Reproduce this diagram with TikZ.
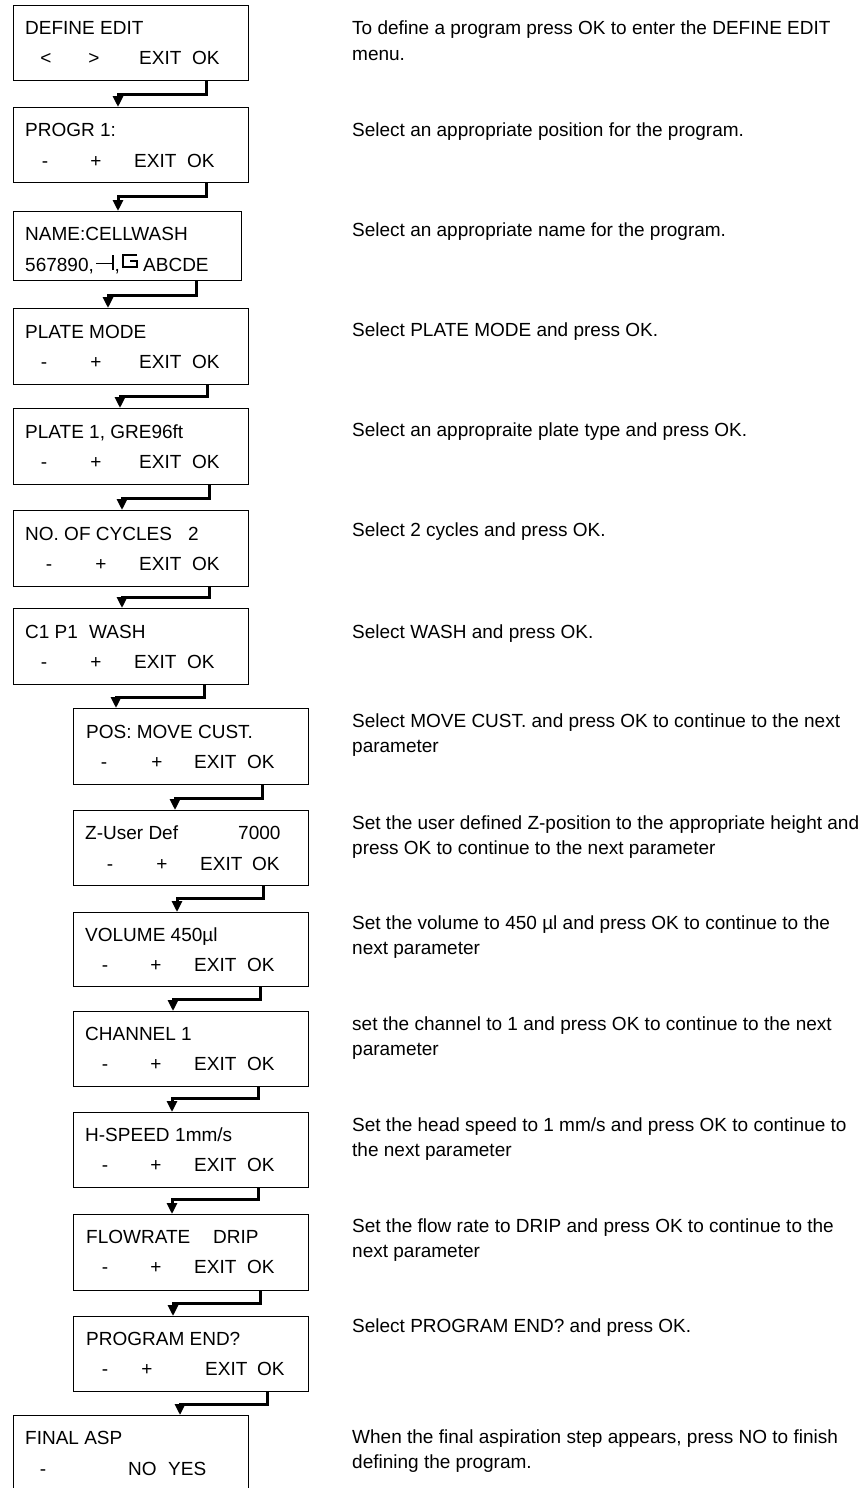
\documentclass[tikz,border=0pt]{standalone}
\usepackage{fontspec}
\setmainfont{Liberation Sans}
\usetikzlibrary{calc,arrows.meta}
\begin{document}
\begin{tikzpicture}[x=1pt,y=-1pt,
  box/.style={draw,line width=1.2pt,inner sep=0pt,anchor=north west},
  lbl/.style={inner sep=0pt,anchor=base west,font=\fontsize{19}{23}\selectfont},
  keyc/.style={inner sep=0pt,anchor=base,font=\fontsize{19}{23}\selectfont},
  desc/.style={inner sep=0pt,anchor=base west,font=\fontsize{19}{23}\selectfont},
  glyph/.style={line width=1.2pt},
  arr/.style={line width=3pt,line join=miter,-{Triangle[length=11pt,width=10pt]}}]
\useasboundingbox (0,0) rectangle (867,1488);
\clip (0,0) rectangle (867,1488);

% ---------- boxes ----------
\node[box,minimum width=235pt,minimum height=75pt] (b1) at (13,5) {};
\node[box,minimum width=235pt,minimum height=75pt] (b2) at (13,107) {};
\node[box,minimum width=228pt,minimum height=69pt] (b3) at (13,211) {};
\node[box,minimum width=235pt,minimum height=76pt] (b4) at (13,308) {};
\node[box,minimum width=235pt,minimum height=76pt] (b5) at (13,408) {};
\node[box,minimum width=235pt,minimum height=76pt] (b6) at (13,510) {};
\node[box,minimum width=235pt,minimum height=76pt] (b7) at (13,608) {};
\node[box,minimum width=235pt,minimum height=76pt] (b8) at (73,708) {};
\node[box,minimum width=235pt,minimum height=75pt] (b9) at (73,810) {};
\node[box,minimum width=235pt,minimum height=74pt] (b10) at (73,912) {};
\node[box,minimum width=235pt,minimum height=75pt] (b11) at (73,1011) {};
\node[box,minimum width=235pt,minimum height=75pt] (b12) at (73,1112) {};
\node[box,minimum width=235pt,minimum height=76pt] (b13) at (73,1214) {};
\node[box,minimum width=235pt,minimum height=75pt] (b14) at (73,1316) {};
\node[box,minimum width=235pt,minimum height=80pt] (b15) at (13,1415) {};

% ---------- connectors ----------
\draw[arr] ($(b1.south west)+(193,0)$) -- ++(0,13) -| ($(b2.north west)+(105,0)$);
\draw[arr] ($(b2.south west)+(193,0)$) -- ++(0,13) -| ($(b3.north west)+(105,0)$);
\draw[arr] ($(b3.south west)+(183,0)$) -- ++(0,14) -| ($(b4.north west)+(95,0)$);
\draw[arr] ($(b4.south west)+(194,0)$) -- ++(0,11) -| ($(b5.north west)+(107,0)$);
\draw[arr] ($(b5.south west)+(196,0)$) -- ++(0,13) -| ($(b6.north west)+(109,0)$);
\draw[arr] ($(b6.south west)+(196,0)$) -- ++(0,10) -| ($(b7.north west)+(109,0)$);
\draw[arr] ($(b7.south west)+(191,0)$) -- ++(0,12) -| ($(b8.north west)+(43,0)$);
\draw[arr] ($(b8.south west)+(189,0)$) -- ++(0,13) -| ($(b9.north west)+(102,0)$);
\draw[arr] ($(b9.south west)+(190,0)$) -- ++(0,12) -| ($(b10.north west)+(104,0)$);
\draw[arr] ($(b10.south west)+(187,0)$) -- ++(0,12) -| ($(b11.north west)+(100,0)$);
\draw[arr] ($(b11.south west)+(185,0)$) -- ++(0,11) -| ($(b12.north west)+(99,0)$);
\draw[arr] ($(b12.south west)+(185,0)$) -- ++(0,11) -| ($(b13.north west)+(99,0)$);
\draw[arr] ($(b13.south west)+(187,0)$) -- ++(0,12) -| ($(b14.north west)+(100,0)$);
\draw[arr] ($(b14.south west)+(194,0)$) -- ++(0,12) -| ($(b15.north west)+(167,0)$);

% ---------- box texts ----------
% box 1
\node[lbl] (l1a) at (25,34.5) {DEFINE EDIT};
\node[keyc] (l1b) at (46,65) {<};
\node[keyc] (l1c) at (94,65) {>};
\node[lbl] (l1d) at (139,65) {EXIT};
\node[lbl] (l1e) at (192,65) {OK};
% box 2
\node[lbl] (l2a) at (25,136.5) {PROGR 1:};
\node[keyc] (l2b) at (45,167) {-};
\node[keyc] (l2c) at (96,167) {+};
\node[lbl] (l2d) at (134,167) {EXIT};
\node[lbl] (l2e) at (187,167) {OK};
% box 3
\node[lbl] (l3a) at (25,240) {NAME:CELLWASH};
\node[lbl] (l3b) at (25,271) {567890,};
\draw[glyph] (96,263.5) -- (113,263.5) (113,255) -- (113,270);
\node[lbl] (l3c) at (114.5,271) {,};
\draw[glyph] (137,255) -- (123,255) -- (123,267) -- (137,267) -- (137,261) -- (130,261);
\node[lbl] (l3d) at (143,271) {ABCDE};
% box 4
\node[lbl] (l4a) at (25,338) {PLATE MODE};
\node[keyc] (l4b) at (44,368) {-};
\node[keyc] (l4c) at (96,368) {+};
\node[lbl] (l4d) at (139,368) {EXIT};
\node[lbl] (l4e) at (192,368) {OK};
% box 5
\node[lbl] (l5a) at (25,438) {PLATE 1, GRE96ft};
\node[keyc] (l5b) at (44,468) {-};
\node[keyc] (l5c) at (96,468) {+};
\node[lbl] (l5d) at (139,468) {EXIT};
\node[lbl] (l5e) at (192,468) {OK};
% box 6
\node[lbl] (l6a) at (25,540) {NO. OF CYCLES};
\node[lbl] (l6f) at (188,540) {2};
\node[keyc] (l6b) at (49,570) {-};
\node[keyc] (l6c) at (101,570) {+};
\node[lbl] (l6d) at (139,570) {EXIT};
\node[lbl] (l6e) at (192,570) {OK};
% box 7
\node[lbl] (l7a) at (25,638) {C1 P1};
\node[lbl] (l7f) at (89,638) {WASH};
\node[keyc] (l7b) at (44,668) {-};
\node[keyc] (l7c) at (96,668) {+};
\node[lbl] (l7d) at (134,668) {EXIT};
\node[lbl] (l7e) at (187,668) {OK};
% box 8
\node[lbl] (l8a) at (86,738) {POS: MOVE CUST.};
\node[keyc] (l8b) at (104,768) {-};
\node[keyc] (l8c) at (157,768) {+};
\node[lbl] (l8d) at (194,768) {EXIT};
\node[lbl] (l8e) at (247,768) {OK};
% box 9
\node[lbl] (l9a) at (85,839) {Z-User Def};
\node[lbl] (l9f) at (238,839) {7000};
\node[keyc] (l9b) at (110,870) {-};
\node[keyc] (l9c) at (162,870) {+};
\node[lbl] (l9d) at (200,870) {EXIT};
\node[lbl] (l9e) at (252,870) {OK};
% box 10
\node[lbl] (l10a) at (85,941) {VOLUME 450µl};
\node[keyc] (l10b) at (105,971) {-};
\node[keyc] (l10c) at (156,971) {+};
\node[lbl] (l10d) at (194,971) {EXIT};
\node[lbl] (l10e) at (247,971) {OK};
% box 11
\node[lbl] (l11a) at (85,1040) {CHANNEL 1};
\node[keyc] (l11b) at (105,1070) {-};
\node[keyc] (l11c) at (156,1070) {+};
\node[lbl] (l11d) at (194,1070) {EXIT};
\node[lbl] (l11e) at (247,1070) {OK};
% box 12
\node[lbl] (l12a) at (85,1141) {H-SPEED};
\node[lbl] (l12f) at (175,1141) {1mm/s};
\node[keyc] (l12b) at (105,1171) {-};
\node[keyc] (l12c) at (156,1171) {+};
\node[lbl] (l12d) at (194,1171) {EXIT};
\node[lbl] (l12e) at (247,1171) {OK};
% box 13
\node[lbl] (l13a) at (86,1243) {FLOWRATE};
\node[lbl] (l13f) at (213,1243) {DRIP};
\node[keyc] (l13b) at (105,1273) {-};
\node[keyc] (l13c) at (156,1273) {+};
\node[lbl] (l13d) at (194,1273) {EXIT};
\node[lbl] (l13e) at (247,1273) {OK};
% box 14
\node[lbl] (l14a) at (86,1345) {PROGRAM END?};
\node[keyc] (l14b) at (105,1375) {-};
\node[keyc] (l14c) at (147,1375) {+};
\node[lbl] (l14d) at (205,1375) {EXIT};
\node[lbl] (l14e) at (257,1375) {OK};
% box 15
\node[lbl] (l15a) at (25,1444) {FINAL ASP};
\node[keyc] (l15b) at (43,1475) {-};
\node[lbl] (l15d) at (128,1475) {NO};
\node[lbl] (l15e) at (168,1475) {YES};

% ---------- descriptions ----------
\node[desc] (d1a) at (352,35) {To define a program press OK to enter the DEFINE EDIT};
\node[desc] (d1b) at (352,60) {menu.};
\node[desc] (d2) at (352,136) {Select an appropriate position for the program.};
\node[desc] (d3) at (352,236) {Select an appropriate name for the program.};
\node[desc] (d4) at (352,336) {Select PLATE MODE and press OK.};
\node[desc] (d5) at (352,436) {Select an appropraite plate type and press OK.};
\node[desc] (d6) at (352,536) {Select 2 cycles and press OK.};
\node[desc] (d7) at (352,638) {Select WASH and press OK.};
\node[desc] (d8a) at (352,727) {Select MOVE CUST. and press OK to continue to the next};
\node[desc] (d8b) at (352,752) {parameter};
\node[desc] (d9a) at (352,829) {Set the user defined Z-position to the appropriate height and};
\node[desc] (d9b) at (352,854) {press OK to continue to the next parameter};
\node[desc] (d10a) at (352,929) {Set the volume to 450 µl and press OK to continue to the};
\node[desc] (d10b) at (352,954) {next parameter};
\node[desc] (d11a) at (352,1030) {set the channel to 1 and press OK to continue to the next};
\node[desc] (d11b) at (352,1055) {parameter};
\node[desc] (d12a) at (352,1131) {Set the head speed to 1 mm/s and press OK to continue to};
\node[desc] (d12b) at (352,1156) {the next parameter};
\node[desc] (d13a) at (352,1232) {Set the flow rate to DRIP and press OK to continue to the};
\node[desc] (d13b) at (352,1257) {next parameter};
\node[desc] (d14) at (352,1332) {Select PROGRAM END? and press OK.};
\node[desc] (d15a) at (352,1443) {When the final aspiration step appears, press NO to finish};
\node[desc] (d15b) at (352,1468) {defining the program.};
\end{tikzpicture}
\end{document}
